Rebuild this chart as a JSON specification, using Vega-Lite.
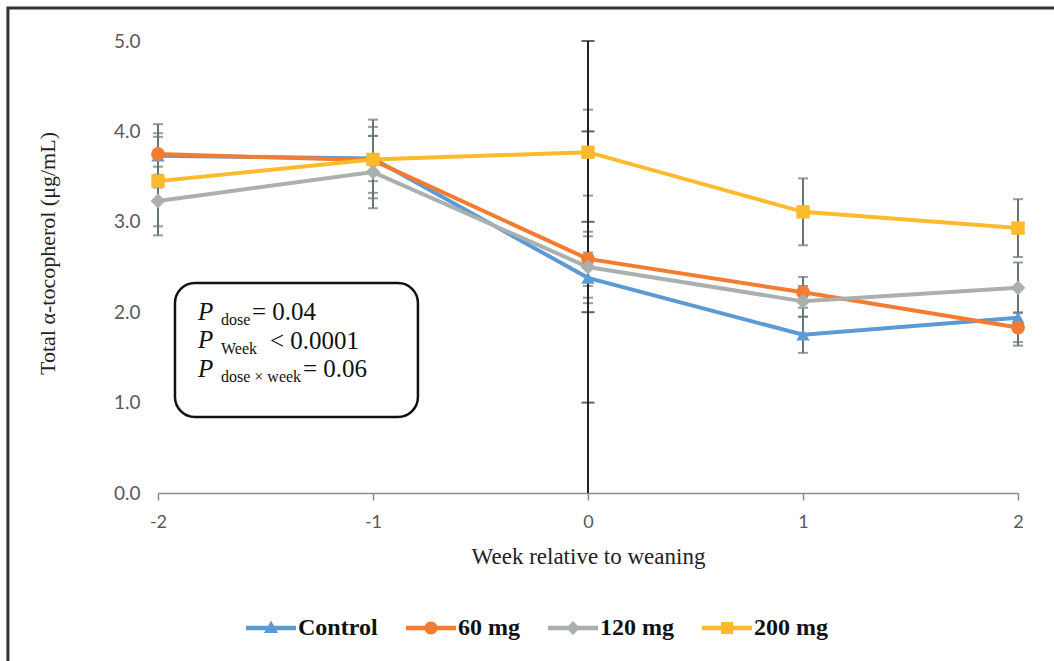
{
  "$schema": "https://vega.github.io/schema/vega-lite/v6.json",
  "width": 860,
  "height": 452,
  "autosize": "none",
  "padding": {"left": 158, "top": 41, "right": 36, "bottom": 168},
  "background": "white",
  "config": {"view": {"stroke": null}},
  "datasets": {
    "main": [
      {"week": -2, "series": "Control", "mean": 3.73, "lo": 3.38, "hi": 4.08},
      {"week": -1, "series": "Control", "mean": 3.70, "lo": 3.45, "hi": 3.95},
      {"week": 0, "series": "Control", "mean": 2.38, "lo": 2.10, "hi": 2.66},
      {"week": 1, "series": "Control", "mean": 1.75, "lo": 1.55, "hi": 1.95},
      {"week": 2, "series": "Control", "mean": 1.94, "lo": 1.63, "hi": 2.25},
      {"week": -2, "series": "60 mg", "mean": 3.75, "lo": 3.52, "hi": 3.98},
      {"week": -1, "series": "60 mg", "mean": 3.68, "lo": 3.32, "hi": 4.05},
      {"week": 0, "series": "60 mg", "mean": 2.59, "lo": 2.29, "hi": 2.89},
      {"week": 1, "series": "60 mg", "mean": 2.22, "lo": 2.05, "hi": 2.39},
      {"week": 2, "series": "60 mg", "mean": 1.83, "lo": 1.67, "hi": 1.99},
      {"week": -2, "series": "120 mg", "mean": 3.23, "lo": 2.85, "hi": 3.61},
      {"week": -1, "series": "120 mg", "mean": 3.55, "lo": 3.15, "hi": 3.95},
      {"week": 0, "series": "120 mg", "mean": 2.50, "lo": 2.16, "hi": 2.84},
      {"week": 1, "series": "120 mg", "mean": 2.12, "lo": 1.95, "hi": 2.29},
      {"week": 2, "series": "120 mg", "mean": 2.27, "lo": 2.00, "hi": 2.55},
      {"week": -2, "series": "200 mg", "mean": 3.45, "lo": 2.95, "hi": 3.94},
      {"week": -1, "series": "200 mg", "mean": 3.69, "lo": 3.26, "hi": 4.13},
      {"week": 0, "series": "200 mg", "mean": 3.77, "lo": 3.29, "hi": 4.24},
      {"week": 1, "series": "200 mg", "mean": 3.11, "lo": 2.74, "hi": 3.48},
      {"week": 2, "series": "200 mg", "mean": 2.93, "lo": 2.61, "hi": 3.25}
    ],
    "blackTicks": [
      {"week": 0, "v": 1},
      {"week": 0, "v": 2},
      {"week": 0, "v": 3},
      {"week": 0, "v": 4},
      {"week": 0, "v": 5}
    ],
    "one": [{}]
  },
  "layer": [
    {
      "data": {"name": "one"},
      "mark": {"type": "rect", "fill": "transparent", "stroke": "#333333", "strokeWidth": 3},
      "encoding": {
        "x": {"datum": -2.698, "type": "quantitative", "scale": {"domain": [-2, 2], "nice": false, "zero": false},
          "axis": {"values": [-2, -1, 0, 1, 2], "labelExpr": "'' + datum.value", "labelFlush": false, "title": "Week relative to weaning",
            "titleFont": "Liberation Serif", "titleFontSize": 23, "titleFontWeight": "normal", "titleColor": "#222222",
            "titleBaseline": "alphabetic", "titleY": 70,
            "labelFont": "Lato", "labelFontSize": 18, "labelColor": "#595959", "labelPadding": 13,
            "tickSize": 7, "tickColor": "#8c8c8c", "tickWidth": 1.5, "domainColor": "#8c8c8c", "domainWidth": 1.5, "grid": false}},
        "x2": {"datum": 2.3},
        "y": {"datum": 5.365, "type": "quantitative", "scale": {"domain": [0, 5], "nice": false, "zero": false},
          "axis": {"values": [0, 1, 2, 3, 4, 5], "format": ".1f", "labelFlush": false, "domain": false, "ticks": false, "tickSize": 0, "grid": false,
            "labelFont": "Lato", "labelFontSize": 19, "labelColor": "#595959", "labelPadding": 18,
            "title": "Total α-tocopherol (μg/mL)", "titleFont": "Liberation Serif", "titleFontSize": 22, "titleFontWeight": "normal",
            "titleColor": "#222222", "titleX": -99, "titleY": 212, "titleBaseline": "bottom"}},
        "y2": {"datum": -1.88}
      }
    },
    {
      "data": {"name": "one"},
      "mark": {"type": "rect", "fill": "white", "stroke": "#111111", "strokeWidth": 2.5, "cornerRadius": 20},
      "encoding": {
        "x": {"datum": -1.921}, "x2": {"datum": -0.791},
        "y": {"datum": 2.323}, "y2": {"datum": 0.841}
      }
    },
    {
      "data": {"name": "main"},
      "mark": {"type": "rule", "color": "#687576", "strokeWidth": 2},
      "encoding": {
        "x": {"field": "week", "type": "quantitative"},
        "y": {"field": "lo", "type": "quantitative"},
        "y2": {"field": "hi"}
      }
    },
    {
      "data": {"name": "main"},
      "transform": [{"fold": ["lo", "hi"], "as": ["end", "v"]}],
      "mark": {"type": "tick", "orient": "horizontal", "color": "#687576", "size": 10, "thickness": 2},
      "encoding": {
        "x": {"field": "week", "type": "quantitative"},
        "y": {"field": "v", "type": "quantitative"}
      }
    },
    {
      "data": {"name": "one"},
      "mark": {"type": "rule", "color": "#222222", "strokeWidth": 2},
      "encoding": {"x": {"datum": 0}, "y": {"datum": 0}, "y2": {"datum": 5}}
    },
    {
      "data": {"name": "blackTicks"},
      "mark": {"type": "tick", "orient": "horizontal", "color": "#222222", "size": 13, "thickness": 2},
      "encoding": {
        "x": {"field": "week", "type": "quantitative"},
        "y": {"field": "v", "type": "quantitative"}
      }
    },
    {
      "data": {"name": "main"},
      "mark": {"type": "line", "strokeWidth": 4},
      "encoding": {
        "x": {"field": "week", "type": "quantitative"},
        "y": {"field": "mean", "type": "quantitative"},
        "stroke": {"field": "series", "type": "nominal", "legend": null,
          "scale": {"domain": ["200 mg", "120 mg", "60 mg", "Control"], "range": ["#FDBA2C", "#A9B0AE", "#F47B30", "#5B9BD5"]}}
      }
    },
    {
      "data": {"name": "main"},
      "transform": [{"filter": "datum.series === 'Control'"}],
      "mark": {"type": "point", "filled": true, "shape": "triangle-up", "size": 180, "color": "#5B9BD5", "opacity": 1},
      "encoding": {"x": {"field": "week", "type": "quantitative"}, "y": {"field": "mean", "type": "quantitative"}}
    },
    {
      "data": {"name": "main"},
      "transform": [{"filter": "datum.series === '60 mg'"}],
      "mark": {"type": "point", "filled": true, "shape": "circle", "size": 190, "color": "#F47B30", "opacity": 1},
      "encoding": {"x": {"field": "week", "type": "quantitative"}, "y": {"field": "mean", "type": "quantitative"}}
    },
    {
      "data": {"name": "main"},
      "transform": [{"filter": "datum.series === '120 mg'"}],
      "mark": {"type": "point", "filled": true, "shape": "diamond", "size": 220, "color": "#A9B0AE", "opacity": 1},
      "encoding": {"x": {"field": "week", "type": "quantitative"}, "y": {"field": "mean", "type": "quantitative"}}
    },
    {
      "data": {"name": "main"},
      "transform": [{"filter": "datum.series === '200 mg'"}],
      "mark": {"type": "point", "filled": true, "shape": "square", "size": 180, "color": "#FDBA2C", "opacity": 1},
      "encoding": {"x": {"field": "week", "type": "quantitative"}, "y": {"field": "mean", "type": "quantitative"}}
    },
    {
      "data": {"name": "main"},
      "mark": {"type": "point", "filled": true},
      "encoding": {
        "x": {"field": "week", "type": "quantitative"},
        "y": {"field": "mean", "type": "quantitative"},
        "opacity": {"value": 0},
        "color": {"field": "series", "type": "nominal",
          "scale": {"domain": ["Control", "60 mg", "120 mg", "200 mg"], "range": ["#5B9BD5", "#F47B30", "#A9B0AE", "#FDBA2C"]},
          "legend": {"orient": "none", "legendX": 88, "legendY": 562, "direction": "horizontal", "title": null,
            "symbolSize": 2500, "symbolStrokeWidth": 0, "symbolOpacity": 1,
            "labelFont": "Liberation Serif", "labelFontSize": 24, "labelFontWeight": "bold", "labelColor": "#111111",
            "labelOffset": 2, "columnPadding": 28, "padding": 0}},
        "shape": {"field": "series", "type": "nominal",
          "scale": {"domain": ["Control", "60 mg", "120 mg", "200 mg"],
            "range": [
              "M-1,-0.09L1,-0.09L1,0.09L-1,0.09Z M0,-0.3L0.28,0.2L-0.28,0.2Z",
              "M-1,-0.09L1,-0.09L1,0.09L-1,0.09Z M-0.26,0A0.26,0.26 0 1,1 0.26,0A0.26,0.26 0 1,1 -0.26,0Z",
              "M-1,-0.09L1,-0.09L1,0.09L-1,0.09Z M0,-0.28L0.28,0L0,0.28L-0.28,0Z",
              "M-1,-0.09L1,-0.09L1,0.09L-1,0.09Z M-0.24,-0.24L0.24,-0.24L0.24,0.24L-0.24,0.24Z"
            ]},
          "legend": {"orient": "none", "legendX": 88, "legendY": 562, "direction": "horizontal", "title": null,
            "symbolSize": 2500, "symbolStrokeWidth": 0, "symbolOpacity": 1,
            "labelFont": "Liberation Serif", "labelFontSize": 24, "labelFontWeight": "bold", "labelColor": "#111111",
            "labelOffset": 2, "columnPadding": 28, "padding": 0}}
      }
    },
    {
      "data": {"name": "one"},
      "mark": {"type": "text", "font": "Liberation Serif", "fontSize": 25, "fontStyle": "italic", "align": "left", "baseline": "alphabetic", "lineHeight": 28.5, "color": "#111111"},
      "encoding": {"x": {"datum": -1.814}, "y": {"datum": 1.914}, "text": {"value": ["P", "P", "P"]}}
    },
    {
      "data": {"name": "one"},
      "mark": {"type": "text", "font": "Liberation Serif", "fontSize": 16, "align": "left", "baseline": "alphabetic", "lineHeight": 28.5, "color": "#111111"},
      "encoding": {"x": {"datum": -1.707}, "y": {"datum": 1.858}, "text": {"value": ["dose", "Week", "dose × week"]}}
    },
    {
      "data": {"name": "one"},
      "mark": {"type": "text", "font": "Liberation Serif", "fontSize": 25, "align": "left", "baseline": "alphabetic", "color": "#111111"},
      "encoding": {"x": {"datum": -1.563}, "y": {"datum": 1.914}, "text": {"value": "= 0.04"}}
    },
    {
      "data": {"name": "one"},
      "mark": {"type": "text", "font": "Liberation Serif", "fontSize": 25, "align": "left", "baseline": "alphabetic", "color": "#111111"},
      "encoding": {"x": {"datum": -1.479}, "y": {"datum": 1.598}, "text": {"value": "< 0.0001"}}
    },
    {
      "data": {"name": "one"},
      "mark": {"type": "text", "font": "Liberation Serif", "fontSize": 25, "align": "left", "baseline": "alphabetic", "color": "#111111"},
      "encoding": {"x": {"datum": -1.326}, "y": {"datum": 1.283}, "text": {"value": "= 0.06"}}
    }
  ]
}
